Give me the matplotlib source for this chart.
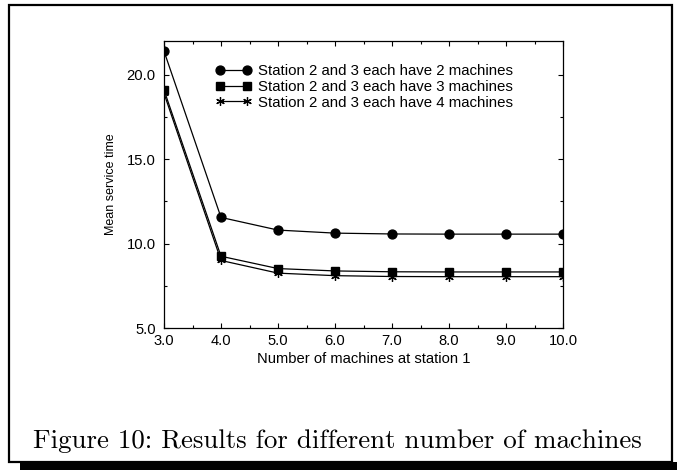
import matplotlib
matplotlib.use("Agg")
import matplotlib.pyplot as plt
from matplotlib.patches import Rectangle
from matplotlib.ticker import MultipleLocator, FormatStrFormatter

x_vals = [3, 4, 5, 6, 7, 8, 9, 10]
s2 = [21.4, 11.55, 10.8, 10.62, 10.57, 10.56, 10.56, 10.56]
s3 = [19.1, 9.25, 8.52, 8.38, 8.33, 8.32, 8.32, 8.32]
s4 = [18.9, 9.0, 8.25, 8.1, 8.05, 8.04, 8.04, 8.04]
labels = ["Station 2 and 3 each have 2 machines",
          "Station 2 and 3 each have 3 machines",
          "Station 2 and 3 each have 4 machines"]
caption = "Figure 10: Results for different number of machines"

W, H = 677, 470
fig = plt.figure(figsize=(W / 100, H / 100), dpi=100)
fig.patch.set_facecolor("white")

sans = "Liberation Sans"

ax = fig.add_axes([164 / W, 1 - 328 / H, (563 - 164) / W, (328 - 41) / H])
ax.plot(x_vals, s2, color="black", lw=0.9, marker="o", ms=6.4, label=labels[0])
ax.plot(x_vals, s3, color="black", lw=0.9, marker="s", ms=5.4, label=labels[1])
ax.plot(x_vals, s4, color="black", lw=0.9, marker=(6, 2, 0), ms=6.2, mew=0.9, label=labels[2])

ax.set_xlim(3, 10)
ax.set_ylim(5, 22)
ax.xaxis.set_major_locator(MultipleLocator(1))
ax.xaxis.set_minor_locator(MultipleLocator(0.5))
ax.yaxis.set_major_locator(MultipleLocator(5))
ax.yaxis.set_minor_locator(MultipleLocator(2.5))
ax.xaxis.set_major_formatter(FormatStrFormatter("%.1f"))
ax.yaxis.set_major_formatter(FormatStrFormatter("%.1f"))
ax.tick_params(which="both", direction="in", top=True, right=True, width=0.8)
ax.tick_params(which="major", length=3.5)
ax.tick_params(which="minor", length=2)
ax.tick_params(axis="y", which="major", pad=6)
ax.tick_params(axis="x", which="major", pad=4)
for lab in ax.get_xticklabels() + ax.get_yticklabels():
    lab.set_fontfamily(sans)
    lab.set_fontsize(10.6)
for sp in ax.spines.values():
    sp.set_linewidth(0.9)

ax.set_xlabel("Number of machines at station 1", fontfamily=sans, fontsize=10.6, labelpad=3)
ax.set_ylabel("Mean service time", fontfamily=sans, fontsize=9, labelpad=7)

leg = ax.legend(loc="upper left", bbox_to_anchor=(215 / W, 1 - 64 / H),
                bbox_transform=fig.transFigure, frameon=False, numpoints=2,
                handlelength=2.45, handletextpad=0.4, labelspacing=0.12,
                borderpad=0, borderaxespad=0,
                prop={"family": sans, "size": 10.8})

fig.text(0.4985, 1 - 441 / H, caption, family="cmr10", fontsize=19.4,
         ha="center", va="center")

# page frame with shadow
fig.patches.append(Rectangle((9 / W, 1 - 462 / H), (672 - 9) / W, (462 - 5) / H,
                             transform=fig.transFigure, fill=False,
                             edgecolor="black", linewidth=1.6))
fig.patches.append(Rectangle((20 / W, 0), (W - 20) / W, 8 / H,
                             transform=fig.transFigure, facecolor="black",
                             edgecolor="none"))

fig.savefig("out.png", dpi=100)
